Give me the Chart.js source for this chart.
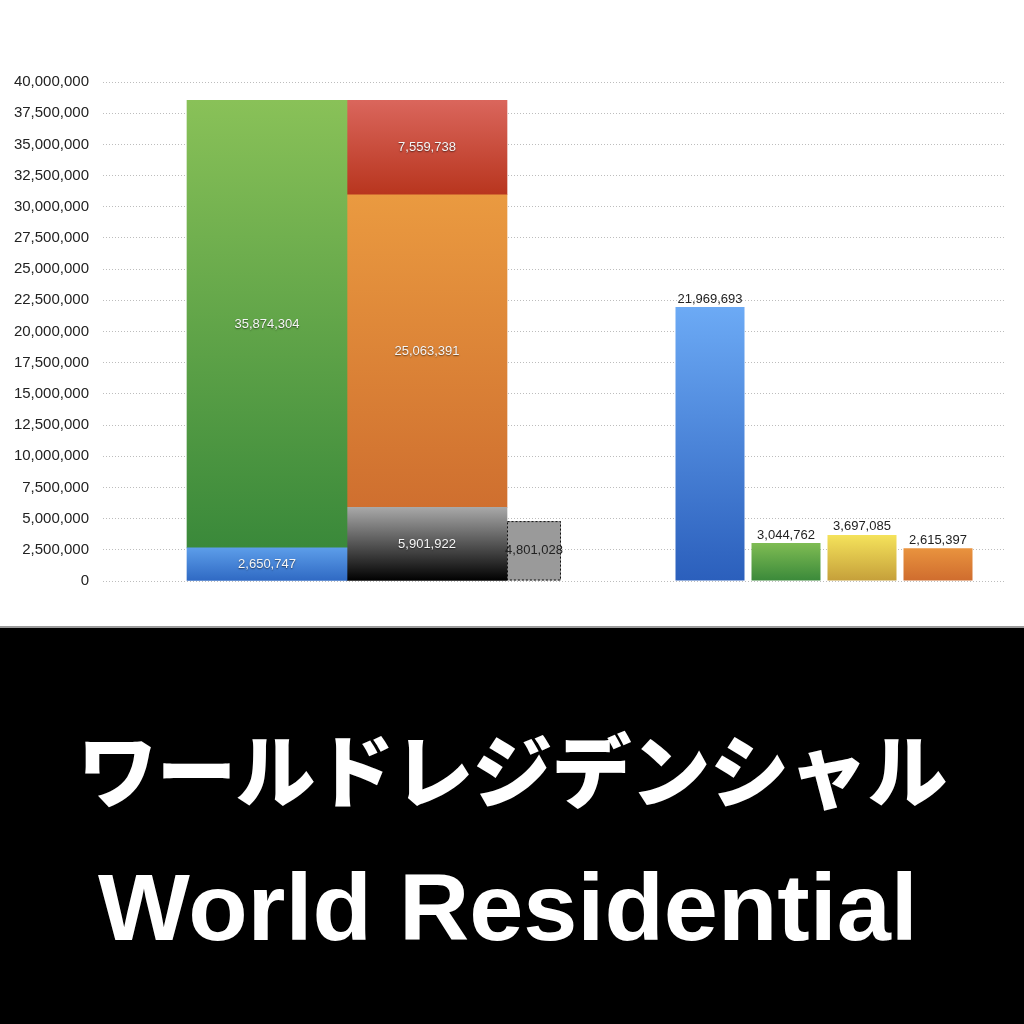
<!DOCTYPE html>
<html>
<head>
<meta charset="utf-8">
<script src="https://cdn.jsdelivr.net/npm/chart.js@4.4.1/dist/chart.umd.min.js"></script>
<style>
  html, body { margin: 0; padding: 0; background: #fff; }
  #wrap { width: 1024px; height: 1024px; position: relative; overflow: hidden; }
  #chartBox { position: absolute; left: 0; top: 0; width: 1024px; height: 626px; }
  #band { position: absolute; left: 0; top: 626px; width: 1024px; height: 398px; background: #000; border-top: 2px solid #9a9a9a; box-sizing: border-box; }
  #jp { position: absolute; left: 0; width: 1024px; top: 88px; text-align: center; color: #fff;
        font-family: "Noto Sans CJK JP", sans-serif; font-weight: 900; font-size: 80px; line-height: 100px; letter-spacing: -1px; }
  #en { position: absolute; left: -4px; width: 1024px; top: 224px; text-align: center; color: #fff;
        font-family: "Liberation Sans", Arial, sans-serif; font-weight: 700; font-size: 95px; line-height: 110px;
        transform: scaleX(1.024); transform-origin: 512px 0; }
</style>
</head>
<body>
<div id="wrap">
  <div id="chartBox"><canvas id="c"></canvas></div>
  <div id="band">
    <div id="jp">ワールドレジデンシャル</div>
    <div id="en">World Residential</div>
  </div>
</div>
<script>
// ---- data ----
const groups = ['left', 'right'];
const stackAValues = [2650747, 35874304];             // bottom -> top
const stackBValues = [5901922, 25063391, 7559738];    // bottom -> top
const grayValues = [4801028];
const rightValues = [21969693, 3044762, 3697085, 2615397];
const yMin = 0;
const yMax = 40000000;
const yStep = 2500000;

// ---- styles ----
const stackAColors = [['#5c9de9', '#2f69c3'], ['#89c158', '#3a893a']];
const stackBColors = [['#a8a8a8', '#000000'], ['#ea9a40', '#cf6f2f'], ['#da665c', '#b8351e']];
const rightColors = [['#6caaf5', '#2b5fbc'], ['#7fbc53', '#3a893a'], ['#f5e35b', '#c59f3a'], ['#e9933e', '#cf6c2e']];

function grad(context, top, bottom, lo, hi) {
  const chart = context.chart;
  const y = chart.scales.y;
  if (!chart.chartArea || !y) return bottom;
  const y0 = y.getPixelForValue(lo);
  const y1 = y.getPixelForValue(hi);
  if (!isFinite(y0) || !isFinite(y1) || y0 === y1) return bottom;
  const g = chart.ctx.createLinearGradient(0, y1, 0, y0);
  g.addColorStop(0, top);
  g.addColorStop(1, bottom);
  return g;
}

const datasets = [];
function addStack(values, colors, stackName, groupIndex, extra) {
  let cum = 0;
  values.forEach((v, i) => {
    const lo = cum, hi = cum + v;
    cum = hi;
    const data = groups.map((g, gi) => ({ x: gi, y: gi === groupIndex ? v : null }));
    datasets.push(Object.assign({
      data,
      stack: stackName,
      backgroundColor: (ctx) => grad(ctx, colors[i][0], colors[i][1], lo, hi),
      borderWidth: 0,
      labelMode: 'inside',
      labelColor: '#f6f6f6',
      labelShadow: true
    }, extra));
  });
}
addStack(stackAValues, stackAColors, 'A', 0, { barThickness: 160 });
addStack(stackBValues, stackBColors, 'B', 0, { barThickness: 160 });
datasets.push({
  data: groups.map((g, gi) => ({ x: gi, y: gi === 0 ? grayValues[0] : null })),
  stack: 'G',
  backgroundColor: '#9a9a9a',
  borderWidth: 0,
  categoryPercentage: 321 / 397,
  barPercentage: 54 / 107,
  labelMode: 'inside',
  labelColor: '#222',
  labelShadow: false,
  dashed: true
});
rightValues.forEach((v, i) => {
  datasets.push({
    data: groups.map((g, gi) => ({ x: gi, y: gi === 1 ? v : null })),
    stack: 'R' + i,
    backgroundColor: (ctx) => grad(ctx, rightColors[i][0], rightColors[i][1], 0, v),
    borderWidth: 0,
    categoryPercentage: 304 / 397,
    barPercentage: 69 / 76,
    labelMode: 'above',
    labelColor: '#222',
    labelShadow: false
  });
});

const fmt = (v) => v.toLocaleString('en-US');

const labelPlugin = {
  id: 'valueLabels',
  afterDatasetsDraw(chart) {
    const ctx = chart.ctx;
    chart.data.datasets.forEach((ds, di) => {
      const meta = chart.getDatasetMeta(di);
      meta.data.forEach((el, i) => {
        const raw = ds.data[i] && ds.data[i].y;
        if (raw === null || raw === undefined) return;
        const p = el.getProps(['x', 'y', 'base', 'width'], true);
        ctx.save();
        if (ds.dashed) {
          ctx.setLineDash([2, 2]);
          ctx.strokeStyle = '#111';
          ctx.lineWidth = 1;
          ctx.strokeRect(p.x - p.width / 2 + 0.5, p.y + 0.5, p.width - 1, p.base - p.y - 1);
          ctx.setLineDash([]);
        }
        ctx.font = '13px "Liberation Sans", Arial, sans-serif';
        ctx.textAlign = 'center';
        ctx.textBaseline = 'middle';
        ctx.fillStyle = ds.labelColor;
        if (ds.labelShadow) {
          ctx.shadowColor = 'rgba(0,0,0,0.55)';
          ctx.shadowBlur = 1.5;
          ctx.shadowOffsetY = 1;
        }
        const ty = ds.labelMode === 'above' ? p.y - 8 : (p.y + p.base) / 2;
        ctx.fillText(fmt(raw), p.x, ty);
        ctx.restore();
      });
    });
  }
};

new Chart(document.getElementById('c'), {
  type: 'bar',
  data: { datasets },
  plugins: [labelPlugin],
  options: {
    responsive: true,
    maintainAspectRatio: false,
    animation: false,
    layout: { padding: { top: 82, bottom: 45, right: 19, left: 0 } },
    plugins: { legend: { display: false }, tooltip: { enabled: false } },
    datasets: { bar: { skipNull: true, grouped: true } },
    scales: {
      x: {
        type: 'linear',
        display: false,
        offset: false,
        min: (103 - 427) / 397,
        max: 1 + (1005 - 824) / 397,
        afterBuildTicks: (scale) => { scale.ticks = groups.map((g, i) => ({ value: i })); },
        grid: { display: false, offset: false }
      },
      y: {
        stacked: true,
        min: yMin,
        max: yMax,
        afterFit: (scale) => { scale.width = 103; },
        border: { display: false, dash: [1, 2] },
        grid: { color: '#bdbdbd', lineWidth: 1, drawTicks: false },
        ticks: {
          stepSize: yStep,
          padding: 14,
          color: '#222',
          font: { family: '"Liberation Sans", Arial, sans-serif', size: 15 },
          callback: (v) => fmt(v)
        }
      }
    }
  }
});
</script>
</body>
</html>
